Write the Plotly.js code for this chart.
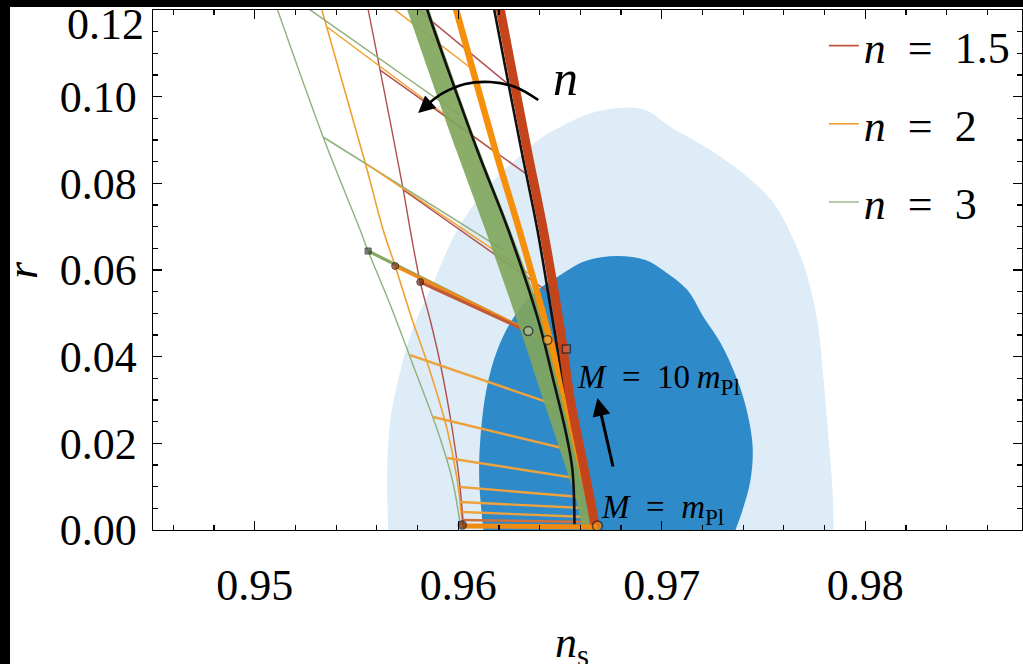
<!DOCTYPE html>
<html><head><meta charset="utf-8">
<script src="https://cdn.plot.ly/plotly-3.0.1.min.js"></script>
<style>
html,body{margin:0;padding:0;background:#000;width:1023px;height:664px;overflow:hidden}
#chart{position:absolute;left:10px;top:7px;width:1013px;height:657px;background:#fff}
</style></head><body><div id="chart"></div>
<script>
// ---- contour regions (Planck-like 68% / 95%) ----
const ns95 = [0.95656,0.95651,0.95666,0.95705,0.95774,0.95862,0.95995,0.96133,0.9628,0.96428,0.96502,0.96625,0.96782,0.9692,0.97043,0.97239,0.97421,0.97549,0.97648,0.97716,0.97766,0.97795,0.9782,0.97839,0.97844];
const r95  = [0,0.01385,0.02538,0.03462,0.04615,0.05538,0.06923,0.07846,0.08538,0.09115,0.093,0.09577,0.09738,0.09692,0.093,0.08769,0.08146,0.07546,0.06692,0.05838,0.04777,0.03462,0.02077,0.00923,0];
const ns68 = [0.96123,0.96103,0.96108,0.96138,0.96192,0.9628,0.96379,0.96502,0.96625,0.96782,0.9692,0.97018,0.97126,0.97205,0.97289,0.97362,0.97411,0.97446,0.97436,0.97397,0.97362];
const r68  = [0,0.01154,0.02077,0.03231,0.04154,0.04962,0.05492,0.05885,0.06208,0.06323,0.06231,0.05954,0.05538,0.04915,0.04315,0.03577,0.02885,0.01962,0.01154,0.00462,0];

// ---- thick prediction curves (N = 60) ----
const nsRed = [0.96197,0.96207,0.96339,0.96418,0.96502,0.96551,0.9661,0.96649,0.96674];
const rRed  = [0.1225,0.12,0.08769,0.06923,0.04615,0.03,0.01615,0.00692,0.00046];
const nsOrange = [0.95975,0.9599,0.96182,0.963,0.96438,0.96526,0.9662,0.96679];
const rOrange  = [0.1225,0.12,0.08769,0.06923,0.04615,0.03,0.01154,0.00046];
const nsGreenBand = [0.9573,0.95749,0.9599,0.96133,0.96305,0.96418,0.96516,0.9658,0.9662,
                     0.96684,0.96659,0.9661,0.96531,0.96433,0.96256,0.96103,0.95857,0.95838];
const rGreenBand  = [0.1225,0.12,0.08769,0.06923,0.04615,0.03,0.01615,0.00692,0.00046,
                     0.00046,0.00692,0.01615,0.03,0.04615,0.06923,0.08769,0.12,0.1225];
const nsBlackA = [0.95833,0.95848,0.96093,0.96246,0.96393,0.96467,0.96526,0.96561,0.96571];
const rBlackA  = [0.1225,0.12,0.08769,0.06923,0.04846,0.03462,0.02308,0.01385,0.00115];
const nsBlackB = [0.96167,0.96177,0.9631,0.96389,0.96472,0.96516,0.96571,0.96625,0.96659];
const rBlackB  = [0.1225,0.12,0.08769,0.06923,0.04615,0.03462,0.02308,0.01154,0.00069];

// ---- thin curves (N = 50) ----
const nsGreen50 = [0.95095,0.95336,0.95518,0.95557,0.95666,0.95774,0.95897,0.95971,0.9601];
const rGreen50  = [0.12231,0.09069,0.06923,0.06438,0.05192,0.03854,0.02308,0.01154,0.00115];
const nsOrange50 = [0.95316,0.95543,0.95631,0.9569,0.95774,0.95848,0.95946,0.95995,0.9602];
const rOrange50  = [0.12231,0.08469,0.06923,0.06092,0.04846,0.03854,0.02308,0.01154,0.00115];
const nsRed50 = [0.95548,0.95616,0.9573,0.95764,0.95813,0.95862,0.95911,0.95971,0.96005,0.96025];
const rRed50  = [0.12231,0.10615,0.07846,0.06923,0.05723,0.04846,0.03854,0.02308,0.01154,0.00115];

// ---- lines of constant M (n value of each) ----
const constMn  = [1.5, 2, 3, 2, 1.5, 3, 2, 1.5, 2, 2, 2, 2, 2, 2, 1.5];
const constMns = [[0.95744,0.9628],[0.95626,0.96074],[0.95203,0.96],[0.95356,0.96192],[0.95616,0.96369],
                  [0.95336,0.96231],[0.95543,0.96364],[0.9573,0.96477],
                  [0.95764,0.96477],[0.95877,0.96551],[0.95946,0.96575],[0.9601,0.966],[0.9601,0.96615],[0.9602,0.96634],[0.9602,0.96659]];
const constMr  = [[0.12231,0.10154],[0.12231,0.10615],[0.12231,0.096],[0.11608,0.08677],[0.10615,0.081],
                  [0.09069,0.06438],[0.08469,0.05862],[0.07846,0.05377],
                  [0.04038,0.02885],[0.02608,0.01846],[0.01662,0.012],[0.00992,0.00762],[0.00646,0.00508],[0.00415,0.003],[0.00231,0.00185]];
// M = 10 m_Pl lines (n = 3, 2, 1.5)
const mTenN  = [3, 2, 1.5];
const mTenNs = [[0.95557,0.96344],[0.9569,0.96438],[0.95813,0.96531]];
const mTenR  = [[0.06438,0.04592],[0.06092,0.04385],[0.05723,0.04177]];
// M = m_Pl line
const mOneNs = [0.9602,0.96684];
const mOneR  = [0.00092,0.00069];

// ---- end-point markers ----
const leftMarkNs = [0.95557,0.9569,0.95813];
const leftMarkR  = [0.06438,0.06092,0.05723];
const rightMarkNs = [0.96344,0.96438,0.96531];
const rightMarkR  = [0.04592,0.04385,0.04177];
const bottomMarkNs = [0.9602,0.96684];
const bottomMarkR  = [0.00115,0.00092];

// ---- arc arrow ("n" direction) ----
const arcNs = [0.96393,0.9628,0.96157,0.96034,0.95926,0.95852];
const arcR  = [0.09923,0.10223,0.10338,0.10292,0.10085,0.09831];

// ---- tick labels ----
const yTickVals = [0, 0.02, 0.04, 0.06, 0.08, 0.10];
const yTickText = ['0.00','0.02','0.04','0.06','0.08','0.10'];
const yTopLabel = '0.12';

const legendNames = ['<i>n</i>\u2002=\u20021.5','<i>n</i>\u2002=\u20022','<i>n</i>\u2002=\u20023'];
const legendN = [1.5, 2, 3];

const thinColor = {1.5:'#b04f50', 2:'#f0a030', 3:'#8fb27c'};
const legColor  = {1.5:'#c0583c', 2:'#f39a2a', 3:'#9cb88e'};
const F = 'Liberation Serif, Times New Roman, serif';

const traces = [];
traces.push({x:ns95, y:r95, mode:'lines', fill:'toself', fillcolor:'#ddecf7', line:{width:0, shape:'spline', color:'#ddecf7'}, showlegend:false, hoverinfo:'skip'});
traces.push({x:ns68, y:r68, mode:'lines', fill:'toself', fillcolor:'#2e8ac9', line:{width:0, shape:'spline', color:'#2e8ac9'}, showlegend:false, hoverinfo:'skip'});

function ln(x,y,color,width,shape){traces.push({x:x,y:y,mode:'lines',line:{color:color,width:width,shape:shape||'spline'},showlegend:false,hoverinfo:'skip'});}

ln(nsGreen50, rGreen50, thinColor[3], 1.4);
ln(nsOrange50, rOrange50, thinColor[2], 1.6);
ln(nsRed50, rRed50, thinColor[1.5], 1.4);
for (let i=0;i<constMn.length;i++){
  const lower = constMr[i][0] < 0.045;
  ln(constMns[i], constMr[i], lower ? (constMn[i]===2?'#eea23c':'#d0703a') : thinColor[constMn[i]], lower?2.4:1.5, 'linear');
}
for (let i=0;i<mTenN.length;i++){
  const c = {1.5:'#c25a36', 2:'#f08a1c', 3:'#86a862'}[mTenN[i]];
  ln(mTenNs[i], mTenR[i], c, 3.2, 'linear');
}
traces.push({x:nsGreenBand, y:rGreenBand, mode:'lines', fill:'toself', fillcolor:'rgba(128,166,92,0.92)', line:{width:0, color:'#80a65c', shape:'spline'}, showlegend:false, hoverinfo:'skip'});
ln(nsBlackA, rBlackA, '#111', 2.6);
ln(nsOrange, rOrange, '#f5900c', 6.5);
ln(nsBlackB, rBlackB, '#111', 2.6);
ln(nsRed, rRed, '#c4441c', 9);
ln(mOneNs, mOneR, '#f08a10', 5, 'linear');

traces.push({x:leftMarkNs, y:leftMarkR, mode:'markers', marker:{symbol:['square','circle','circle'], size:[6,7,7], color:['#4a5a40','#8a3a14','#6e2a14'], line:{color:'#111',width:1}}, showlegend:false, hoverinfo:'skip'});
traces.push({x:rightMarkNs, y:rightMarkR, mode:'markers', marker:{symbol:['circle','circle','square'], size:[9,9,8], color:['#a9c2a6','#f2a23c','#d8603c'], line:{color:'#222',width:1.5}}, showlegend:false, hoverinfo:'skip'});
traces.push({x:bottomMarkNs, y:bottomMarkR, mode:'markers', marker:{symbol:'circle', size:[8,10], color:['#6e2a14','#f08a10'], line:{color:'#222',width:1.5}}, showlegend:false, hoverinfo:'skip'});
traces.push({x:arcNs, y:arcR, mode:'lines', line:{color:'#000', width:2.6, shape:'spline'}, showlegend:false, hoverinfo:'skip'});

for (let i=0;i<legendN.length;i++){
  traces.push({x:[null], y:[null], mode:'lines', name:legendNames[i], legendgroup:'g'+i, line:{color:legColor[legendN[i]], width:1.6}});
}

const layout = {
  width:1013, height:657,
  margin:{l:143, r:1, t:3, b:134},
  paper_bgcolor:'#fff', plot_bgcolor:'#fff',
  font:{family:F, color:'#000', size:44},
  xaxis:{range:[0.945,0.9877], dtick:0.01, tick0:0.95, tickformat:'.2f', ticks:'inside', ticklen:9, tickwidth:1.4, tickcolor:'#000',
         showline:true, linecolor:'#000', linewidth:1.4, mirror:'allticks', showgrid:false, zeroline:false,
         ticklabelstandoff:16, tickfont:{family:F, size:44, color:'#000'},
         minor:{dtick:0.002, ticks:'inside', ticklen:5, tickcolor:'#000', tickwidth:1.2, showgrid:false}},
  yaxis:{range:[0,0.12], tickmode:'array', tickvals:yTickVals, ticktext:yTickText, ticks:'inside', ticklen:9, tickwidth:1.4, tickcolor:'#000',
         showline:true, linecolor:'#000', linewidth:1.4, mirror:'allticks', showgrid:false, zeroline:false,
         ticklabelstandoff:6, tickfont:{family:F, size:44, color:'#000'},
         minor:{dtick:0.005, ticks:'inside', ticklen:5, tickcolor:'#000', tickwidth:1.2, showgrid:false}},
  showlegend:true,
  legend:{x:0.772, xanchor:'left', y:0.999, yanchor:'top', bgcolor:'rgba(0,0,0,0)', borderwidth:0,
          font:{family:F, size:44, color:'#000'}, itemwidth:30, tracegroupgap:18, traceorder:'grouped'},
  annotations:[
    {xref:'paper', yref:'y', x:-0.0085, y:0.1166, text:yTopLabel, showarrow:false, xanchor:'right', yanchor:'middle', font:{family:F, size:44}},
    {xref:'paper', yref:'paper', x:-0.1507, y:0.5, text:'<i>r</i>', textangle:-90, showarrow:false, xanchor:'center', yanchor:'middle', font:{family:F, size:44}},
    {xref:'paper', yref:'paper', x:0.482, y:-0.222, text:'<i>n</i><sub>s</sub>', showarrow:false, xanchor:'center', yanchor:'middle', font:{family:F, size:44}},
    {x:0.96526, y:0.10431, text:'<i>n</i>', showarrow:false, xanchor:'center', yanchor:'middle', font:{family:F, size:50}},
    {x:0.95803, y:0.09623, ax:0.95852, ay:0.09831, axref:'x', ayref:'y', text:'', showarrow:true, arrowhead:2, arrowsize:1.3, arrowwidth:2.6, arrowcolor:'#000'},
    {x:0.96684, y:0.03046, ax:0.96762, ay:0.01431, axref:'x', ayref:'y', text:'', showarrow:true, arrowhead:2, arrowsize:1.2, arrowwidth:3, arrowcolor:'#000'},
    {x:0.96984, y:0.03462, text:'<i>M</i>\u2002=\u200210\u2009<i>m</i><sub>Pl</sub>', showarrow:false, xanchor:'center', yanchor:'middle', font:{family:F, size:33}},
    {x:0.97003, y:0.00462, text:'<i>M</i>\u2002=\u2002<i>m</i><sub>Pl</sub>', showarrow:false, xanchor:'center', yanchor:'middle', font:{family:F, size:33}}
  ]
};
Plotly.newPlot('chart', traces, layout, {staticPlot:true, displayModeBar:false});
</script></body></html>
